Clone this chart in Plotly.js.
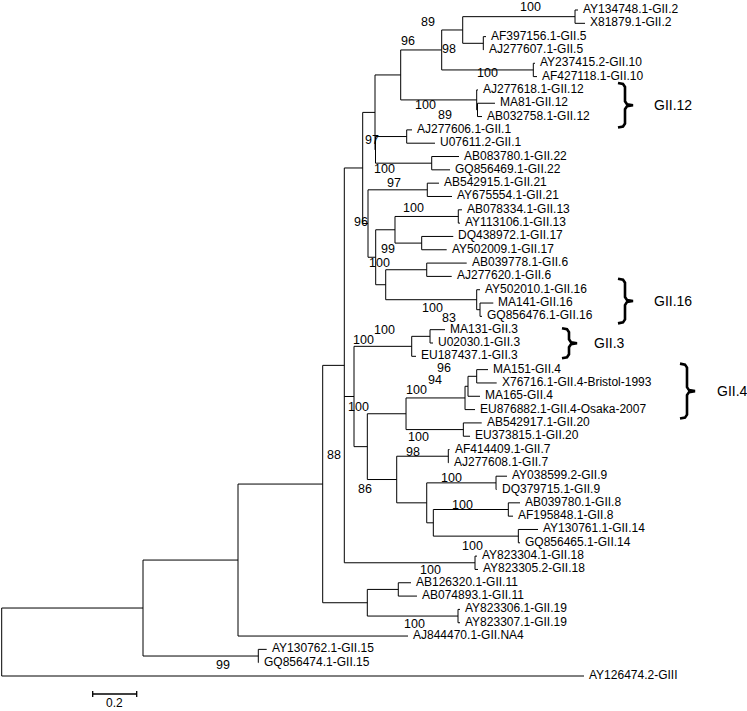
<!DOCTYPE html>
<html><head><meta charset="utf-8">
<script src="https://cdn.plot.ly/plotly-3.0.1.min.js"></script>
<style>html,body{margin:0;padding:0;background:#fff}#chart{width:747px;height:711px}</style>
</head><body><div id="chart"></div>
<script>
// ---------------- DATA ----------------
// Tree nodes in preorder (children are taken in array order, top to bottom)
const treeNode = [
 'root','I','Z','P','Q','S','K1','D','B','A',
 'n2','AY134748.1-GII.2','X81879.1-GII.2',
 'n5','AF397156.1-GII.5','AJ277607.1-GII.5',
 'n10','AY237415.2-GII.10','AF427118.1-GII.10',
 'C1','AJ277618.1-GII.12','C2','MA81-GII.12','AB032758.1-GII.12',
 'K2','n1','AJ277606.1-GII.1','U07611.2-GII.1',
 'n22','AB083780.1-GII.22','GQ856469.1-GII.22',
 'J','n21','AB542915.1-GII.21','AY675554.1-GII.21',
 'G','F','n13','AB078334.1-GII.13','AY113106.1-GII.13',
 'n17','DQ438972.1-GII.17','AY502009.1-GII.17',
 'H','n6','AB039778.1-GII.6','AJ277620.1-GII.6',
 'L1','AY502010.1-GII.16','L2','MA141-GII.16','GQ856476.1-GII.16',
 'X','M1','M2','MA131-GII.3','U02030.1-GII.3','EU187437.1-GII.3',
 'N','N1','O1','O2','O3','MA151-GII.4','X76716.1-GII.4-Bristol-1993','MA165-GII.4','EU876882.1-GII.4-Osaka-2007',
 'n20','AB542917.1-GII.20','EU373815.1-GII.20',
 'T','n7','AF414409.1-GII.7','AJ277608.1-GII.7',
 'U','n9','AY038599.2-GII.9','DQ379715.1-GII.9',
 'V','n8','AB039780.1-GII.8','AF195848.1-GII.8',
 'n14','AY130761.1-GII.14','GQ856465.1-GII.14',
 'n18','AY823304.1-GII.18','AY823305.2-GII.18',
 'W','n11','AB126320.1-GII.11','AB074893.1-GII.11',
 'n19','AY823306.1-GII.19','AY823307.1-GII.19',
 'AJ844470.1-GII.NA4',
 'n15','AY130762.1-GII.15','GQ856474.1-GII.15',
 'AY126474.2-GIII'
];
const treeParent = [
 null,'root','I','Z','P','Q','S','K1','D','B',
 'A','n2','n2',
 'A','n5','n5',
 'B','n10','n10',
 'D','C1','C1','C2','C2',
 'K1','K2','n1','n1',
 'K2','n22','n22',
 'S','J','n21','n21',
 'J','G','F','n13','n13',
 'F','n17','n17',
 'G','H','n6','n6',
 'H','L1','L1','L2','L2',
 'Q','X','M1','M2','M2','M1',
 'X','N','N1','O1','O2','O3','O3','O2','O1',
 'N1','n20','n20',
 'N','T','n7','n7',
 'T','U','n9','n9',
 'U','V','n8','n8',
 'V','n14','n14',
 'Q','n18','n18',
 'P','W','n11','n11',
 'W','n19','n19',
 'Z',
 'I','n15','n15',
 'root'
];
const branchLength = [
 0,0.6423,0.4318,0.385,0.0982,0.0836,0.0559,0.1168,0.1864,0.0955,
 0.5105,0.0136,0.0455,
 0.0936,0.0123,0.001,
 0.4164,0.0077,0.0168,
 0.3455,0.0059,0.0036,0.0795,0.0205,
 0.0023,0.1418,0.0241,0.1286,
 0.2555,0.1241,0.0832,
 0.0241,0.2695,0.0532,0.1123,
 0.035,0.0877,0.2877,0.0168,0.0077,
 0.1214,0.1436,0.1136,
 0.0455,0.1864,0.1818,0.1136,
 0.4136,0.015,0.015,0.0605,0.0091,
 0.0441,0.2623,0.0832,0.0682,0.0136,0.0195,
 0.0605,0.1759,0.2682,0.0136,0.0395,0.0514,0.0909,0.0545,0.0455,
 0.2605,0.0836,0.0305,
 0.1336,0.2345,0.0055,0.001,
 0.1364,0.315,0.05,0.0023,
 0.03,0.3409,0.0532,0.0214,
 0.3864,0.0895,0.0077,
 0.5941,0.0091,0.0136,
 0.2027,0.1409,0.0577,0.085,
 0.4123,0.0091,0.0091,
 0.7727,
 0.5241,0.0382,0.001,
 2.6468
];
// Bootstrap support values and the node each is drawn next to
const bootNode  = ['n2','A','B','B','C1','C1','C2','K2','S','n21','n13','J','G','G','L1','L2','M1','M1','O3','O2','O1','N1','n20','n7','T','n9','n8','n14','n18','n19','P','n15'];
const bootValue = [100,89,96,98,100,100,89,97,100,97,100,96,99,100,100,83,100,100,96,94,100,100,100,98,86,100,100,100,100,100,88,99];
// Genotype clades marked with braces
const cladeLabel = ['GII.12','GII.16','GII.3','GII.4'];
const cladeFirst = ['AJ277618.1-GII.12','AY502010.1-GII.16','MA131-GII.3','MA151-GII.4'];
const cladeLast  = ['AB032758.1-GII.12','GQ856476.1-GII.16','EU187437.1-GII.3','EU876882.1-GII.4-Osaka-2007'];
// Scale bar
const scaleBarLength = 0.2;
const scaleBarText = '0.2';

// ---------------- LAYOUT / STYLE ----------------
const W = 747, H = 711;
const PX_PER_UNIT = 220, ROOT_PX = 1.7, LEAF0_PX = 10, LEAF_STEP_PX = 13.32;
const FONT = 'Liberation Sans, Arial, sans-serif';
// pixel offsets (dx, dy) of each bootstrap label from its node
const bootOffset = [[-45,-10],[-35,-8],[-34,-9],[7,-1],[11,-27],[-51,5],[-32,5],[-4,-10],[22,1],[-33,-7],[-45,-8],[-7.5,-2],[12,-8],[4,5.5],[-44,8.6],[-31,8.6],[-27,-16],[-48,-6],[-33,-8],[-33,-6],[-48.5,-8],[-47.5,-7],[-45,7],[-35,-4.5],[-32,9],[-45,-4.5],[-46,-4.5],[-46,10],[-44.5,7],[-44,7.5],[11,-29],[-35,9]];
// brace geometry per clade: spine x px, top pad px, bottom pad px, label x px
const braceSpinePx = [625,625,569,687];
const bracePad = [[7,11],[11,7],[1.5,2],[6,9]];
const braceLabelPx = [652,652,592,715];
const scaleX0Px = 92.7, scaleYPx = 694, scaleTextPx = 703;

// ---------------- BUILD ----------------
const pxToX = p => (p - ROOT_PX) / PX_PER_UNIT;
const pxToY = p => (p - LEAF0_PX) / LEAF_STEP_PX;
const dxToX = d => d / PX_PER_UNIT;
const dyToY = d => d / LEAF_STEP_PX;

const idx = {}; treeNode.forEach((n,i)=>idx[n]=i);
const children = treeNode.map(()=>[]);
treeParent.forEach((p,i)=>{ if(p!==null) children[idx[p]].push(i); });
const nx = new Array(treeNode.length), ny = new Array(treeNode.length);
let leafCount = 0;
function place(i, x0){
  nx[i] = x0 + branchLength[i];
  const ch = children[i];
  if(ch.length===0){ ny[i] = leafCount++; }
  else { ch.forEach(c=>place(c, nx[i])); ny[i] = (ny[ch[0]] + ny[ch[ch.length-1]])/2; }
}
place(0, 0);

const lx=[], ly=[];
treeNode.forEach((n,i)=>{
  const ch = children[i];
  if(ch.length){ lx.push(nx[i], nx[i], null); ly.push(ny[ch[0]], ny[ch[ch.length-1]], null); }
  if(treeParent[i]!==null){ const p = idx[treeParent[i]]; lx.push(nx[p], nx[i], null); ly.push(ny[i], ny[i], null); }
});

const traces = [{
  x: lx, y: ly, mode: 'lines', type: 'scatter', hoverinfo: 'skip',
  line: {color: '#000', width: 1}
}];

const annotations = [];
treeNode.forEach((n,i)=>{
  if(children[i].length===0){
    annotations.push({x: nx[i], y: ny[i], text: n, xanchor: 'left', yanchor: 'middle', xshift: 3, yshift: 1,
      showarrow: false, font: {family: FONT, size: 12, color: '#000'}});
  }
});
bootValue.forEach((v,k)=>{
  const i = idx[bootNode[k]];
  annotations.push({x: nx[i], y: ny[i], text: String(v), xanchor: 'center', yanchor: 'middle',
    xshift: bootOffset[k][0], yshift: -bootOffset[k][1], showarrow: false, borderpad: 0,
    font: {family: FONT, size: 12.5, color: '#000'}});
});

// braces
cladeLabel.forEach((lab,k)=>{
  const a = ny[idx[cladeFirst[k]]] - dyToY(bracePad[k][0]);
  const b = ny[idx[cladeLast[k]]] + dyToY(bracePad[k][1]);
  const m = (a+b)/2;
  const s = pxToX(braceSpinePx[k]);
  const pts = [[-7,a,0],[-2,a,1],[0,a,4],[0,m,-4],[2,m,-1],[8,m,0],[2,m,1],[0,m,4],[0,b,-4],[-2,b,-1],[-7,b,0]];
  traces.push({
    x: pts.map(p=>s + dxToX(p[0])), y: pts.map(p=>p[1] + dyToY(p[2])),
    mode: 'lines', type: 'scatter', hoverinfo: 'skip', line: {color: '#000', width: 2.6}
  });
  annotations.push({x: pxToX(braceLabelPx[k]), y: m, text: lab, xanchor: 'left', yanchor: 'middle',
    showarrow: false, font: {family: FONT, size: 14, color: '#000'}});
});

// scale bar
const sx0 = pxToX(scaleX0Px), sy = pxToY(scaleYPx), tick = dyToY(3);
traces.push({
  x: [sx0, sx0+scaleBarLength, null, sx0, sx0, null, sx0+scaleBarLength, sx0+scaleBarLength],
  y: [sy, sy, null, sy-tick, sy+tick, null, sy-tick, sy+tick],
  mode: 'lines', type: 'scatter', hoverinfo: 'skip', line: {color: '#000', width: 1.3}
});
annotations.push({x: sx0 + scaleBarLength/2, y: pxToY(scaleTextPx), text: scaleBarText, xanchor: 'center', yanchor: 'middle',
  borderpad: 0, showarrow: false, font: {family: FONT, size: 12, color: '#000'}});

const layout = {
  width: W, height: H, margin: {l:0, r:0, t:0, b:0},
  paper_bgcolor: '#fff', plot_bgcolor: '#fff', showlegend: false,
  xaxis: {range: [pxToX(0), pxToX(W)], visible: false, fixedrange: true},
  yaxis: {range: [pxToY(H), pxToY(0)], visible: false, fixedrange: true},
  annotations: annotations
};
Plotly.newPlot('chart', traces, layout, {staticPlot: true, displayModeBar: false});
</script>
</body></html>
